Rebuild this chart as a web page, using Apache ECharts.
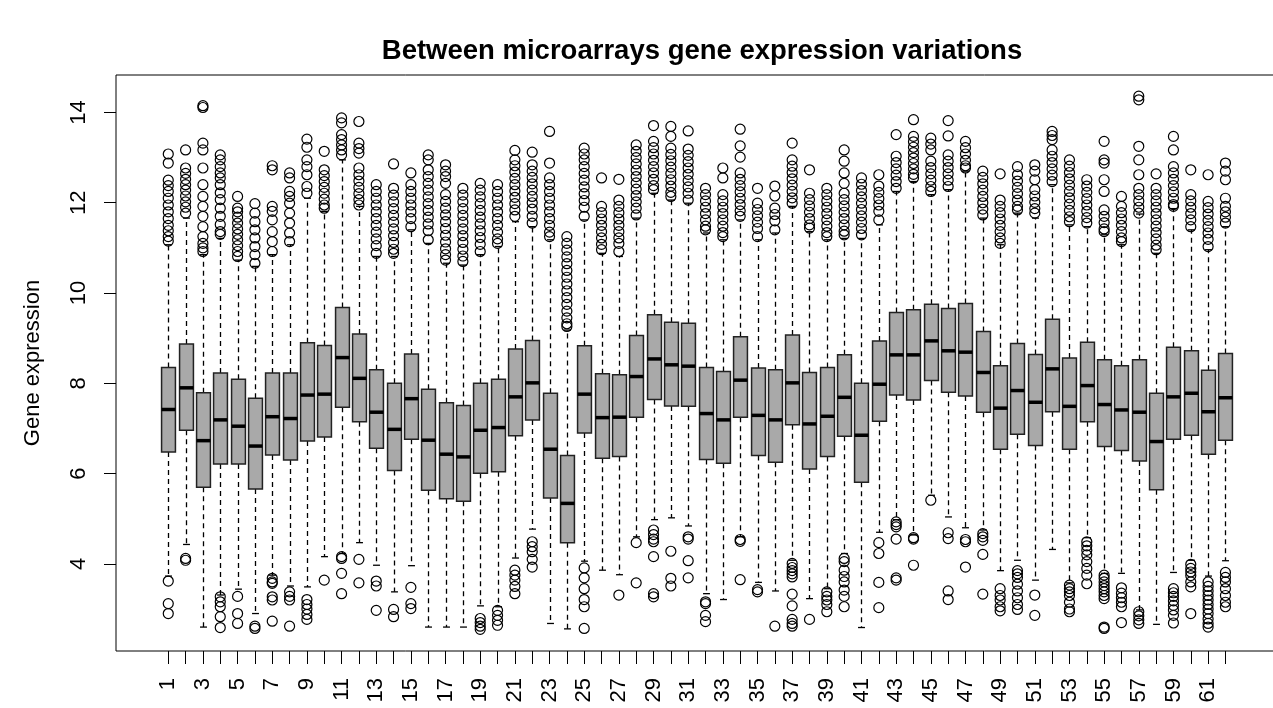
<!DOCTYPE html>
<html>
<head>
<meta charset="utf-8">
<title>Between microarrays gene expression variations</title>
<script src="https://cdn.jsdelivr.net/npm/echarts@6/dist/echarts.min.js"></script>
<style>
    html, body { margin: 0; padding: 0; background: #fff; }
    #chart { width: 1273px; height: 708px; }
</style>
</head>
<body>
<div id="chart"></div>
<script>
    // arrays 1..62
    var arrays = ['1','2','3','4','5','6','7','8','9','10','11','12','13','14','15','16','17','18','19','20',
        '21','22','23','24','25','26','27','28','29','30','31','32','33','34','35','36','37','38','39','40',
        '41','42','43','44','45','46','47','48','49','50','51','52','53','54','55','56','57','58','59','60',
        '61','62'];
    var yTicks = [4, 6, 8, 10, 12, 14];

    var whiskerLow = [3.73,4.43,2.60,3.31,3.44,2.90,3.75,3.51,3.49,4.16, 4.23,4.47,3.97,3.38,3.96,2.60,2.60,2.60,3.07,3.05,
        4.13,4.77,2.68,2.56,4.06,3.86,3.76,4.60,4.98,5.02, 4.84,3.34,3.21,4.60,3.59,3.40,4.08,3.23,3.45,4.23,
        2.59,4.70,4.98,4.64,5.52,5.04,4.80,4.75,3.85,4.08, 3.64,4.32,3.58,4.58,3.79,3.79,2.98,2.66,3.81,4.08,
        3.73,4.07];
    var q1 = [6.48,6.96,5.70,6.21,6.21,5.66,6.41,6.30,6.72,6.81, 7.47,7.15,6.56,6.07,6.76,5.63,5.44,5.39,6.01,6.04,
        6.84,7.19,5.46,4.47,6.90,6.34,6.38,7.25,7.64,7.50, 7.49,6.31,6.23,7.25,6.40,6.25,7.08,6.10,6.38,6.83,
        5.81,7.16,7.74,7.63,8.06,7.80,7.72,7.36,6.54,6.87, 6.62,7.37,6.54,7.15,6.60,6.51,6.28,5.64,6.76,6.85,
        6.43,6.74];
    var medians = [7.42,7.90,6.73,7.19,7.05,6.61,7.26,7.22,7.74,7.76, 8.57,8.11,7.36,6.98,7.66,6.74,6.43,6.37,6.96,7.02,
        7.70,8.01,6.54,5.34,7.76,7.24,7.25,8.15,8.54,8.41, 8.38,7.33,7.19,8.07,7.29,7.19,8.01,7.10,7.27,7.69,
        6.85,7.98,8.63,8.63,8.94,8.72,8.69,8.24,7.45,7.84, 7.58,8.32,7.49,7.95,7.53,7.41,7.36,6.71,7.70,7.78,
        7.37,7.68];
    var q3 = [8.35,8.87,7.79,8.23,8.09,7.67,8.23,8.23,8.90,8.84, 9.68,9.09,8.30,8.00,8.65,7.87,7.57,7.51,8.00,8.09,
        8.76,8.95,7.78,6.40,8.83,8.21,8.19,9.06,9.52,9.35, 9.33,8.35,8.26,9.03,8.34,8.30,9.07,8.24,8.35,8.63,
        8.00,8.94,9.57,9.63,9.75,9.66,9.77,9.15,8.39,8.88, 8.64,9.42,8.56,8.91,8.52,8.39,8.52,7.78,8.80,8.72,
        8.29,8.66];
    var whiskerHigh = [11.07,11.66,10.85,11.21,10.73,10.59,10.85,11.07,12.10,11.81, 12.95,11.92,10.81,10.81,11.40,11.10,10.66,10.62,10.85,11.03,
        11.58,11.47,11.18,9.18,11.62,10.88,10.81,11.66,12.21,12.06, 11.99,11.33,11.18,11.62,11.18,11.33,11.92,11.36,11.18,11.21,
        11.21,11.51,12.25,12.47,12.18,12.29,12.70,11.66,11.07,11.77, 11.66,12.40,11.51,11.47,11.29,11.07,11.75,10.88,11.87,11.40,
        10.96,11.47];

    // outlying points of each array (upper and lower)
    var outliers = [
        [13.08,12.88,12.5,12.38,12.25,12.1,11.95,11.8,11.65,11.5,11.38,11.25,11.15, 3.62,3.12,2.9],
        [13.17,12.77,12.65,12.52,12.4,12.28,12.15,12.02,11.9,11.77, 4.12,4.08],
        [14.15,14.11,13.32,13.17,12.77,12.4,12.14,11.92,11.7,11.47,11.25,11.1,11.0,10.92],
        [13.06,12.95,12.8,12.66,12.55,12.4,12.22,12.07,11.88,11.7,11.52,11.36,11.3, 3.27,3.16,3.05,2.83,2.59],
        [12.14,11.88,11.8,11.68,11.55,11.42,11.3,11.18,11.05,10.92,10.81, 3.28,2.9,2.68],
        [11.98,11.77,11.58,11.4,11.22,11.03,10.85,10.66, 2.62,2.57],
        [12.82,12.73,11.92,11.81,11.62,11.36,11.14,10.92, 3.68,3.6,3.57,3.27,3.2,2.73],
        [12.66,12.55,12.25,12.14,11.99,11.77,11.55,11.33,11.14, 3.38,3.28,3.2,2.62],
        [13.41,13.23,12.95,12.8,12.62,12.36,12.21, 3.21,3.1,3.0,2.88,2.77],
        [13.14,12.73,12.6,12.47,12.34,12.21,12.08,11.95,11.88, 3.64],
        [13.88,13.77,13.51,13.4,13.28,13.17,13.06, 4.16,4.12,3.79,3.34],
        [13.8,13.32,13.2,13.1,12.77,12.62,12.48,12.34,12.2,12.07,11.95, 4.1,3.58],
        [12.4,12.25,12.1,11.95,11.8,11.65,11.5,11.35,11.2,11.05,10.88, 3.62,3.51,2.97],
        [12.86,12.32,12.17,12.02,11.87,11.72,11.57,11.42,11.27,11.12,10.97,10.88, 2.99,2.83],
        [12.66,12.4,12.25,12.1,11.95,11.8,11.65,11.47, 3.48,3.12,3.01],
        [13.06,12.95,12.73,12.58,12.43,12.28,12.13,11.98,11.83,11.68,11.53,11.38,11.18],
        [12.84,12.7,12.58,12.43,12.18,12.03,11.88,11.73,11.58,11.43,11.28,11.13,10.98,10.85,10.73],
        [12.32,12.17,12.02,11.87,11.72,11.57,11.42,11.27,11.12,10.97,10.82,10.7],
        [12.43,12.28,12.13,11.98,11.83,11.68,11.53,11.38,11.23,11.08,10.92, 2.79,2.7,2.62,2.55],
        [12.4,12.25,12.1,11.95,11.8,11.65,11.5,11.35,11.2,11.1, 2.97,2.86,2.75,2.64],
        [13.16,12.95,12.82,12.68,12.54,12.4,12.26,12.12,11.98,11.84,11.7, 3.86,3.75,3.64,3.5,3.34],
        [13.12,12.84,12.7,12.56,12.42,12.28,12.14,12.0,11.86,11.7,11.55, 4.49,4.38,4.27,4.1,3.93],
        [13.58,12.88,12.55,12.4,12.25,12.1,11.95,11.8,11.65,11.5,11.35,11.25],
        [11.25,11.1,10.95,10.8,10.65,10.5,10.35,10.2,10.05,9.9,9.75,9.6,9.45,9.32,9.26],
        [13.21,13.08,12.95,12.8,12.65,12.5,12.35,12.2,12.05,11.9,11.7, 3.91,3.69,3.45,3.21,3.05,2.57],
        [12.55,11.92,11.78,11.64,11.5,11.36,11.22,11.08,10.96],
        [12.52,12.06,11.92,11.78,11.64,11.5,11.36,11.22,11.1,10.92, 3.31],
        [13.28,13.14,13.0,12.86,12.72,12.58,12.44,12.3,12.16,12.02,11.88,11.73, 4.47,3.58],
        [13.71,13.36,13.22,13.08,12.94,12.8,12.66,12.52,12.38,12.29, 4.75,4.65,4.55,4.49,4.16,3.34,3.27],
        [13.69,13.47,13.21,13.07,12.93,12.79,12.65,12.51,12.37,12.23,12.14, 4.28,3.68,3.51],
        [13.59,13.19,13.05,12.91,12.77,12.63,12.49,12.35,12.21,12.06, 4.6,4.55,4.07,3.69],
        [12.32,12.18,12.04,11.9,11.76,11.62,11.48,11.4, 3.16,3.12,2.86,2.72],
        [12.77,12.55,12.18,12.04,11.9,11.76,11.62,11.48,11.34,11.25],
        [13.63,13.26,13.01,12.66,12.52,12.38,12.24,12.1,11.96,11.82,11.7, 4.54,4.5,3.65],
        [12.32,11.99,11.85,11.71,11.57,11.43,11.25, 3.43,3.38],
        [12.37,12.15,11.88,11.74,11.6,11.4, 2.62],
        [13.32,12.95,12.81,12.67,12.53,12.39,12.25,12.11,11.99, 4.01,3.92,3.85,3.78,3.71,3.33,3.07,2.77,2.68,2.62],
        [12.73,12.21,12.07,11.93,11.79,11.65,11.51,11.44, 2.77],
        [12.32,12.18,12.04,11.9,11.76,11.62,11.48,11.34,11.25, 3.38,3.28,3.2,3.1,2.94],
        [13.17,12.92,12.66,12.43,12.21,12.07,11.93,11.79,11.65,11.51,11.37,11.29, 4.12,4.05,3.86,3.72,3.6,3.42,3.28,3.05],
        [12.55,12.41,12.27,12.13,11.99,11.85,11.71,11.57,11.43,11.29],
        [12.62,12.37,12.23,12.09,11.95,11.81,11.62, 4.47,4.23,3.59,3.03],
        [13.51,13.03,12.89,12.75,12.61,12.47,12.32, 4.93,4.87,4.82,4.55,3.69,3.64],
        [13.84,13.47,13.35,13.23,13.11,12.99,12.87,12.75,12.63,12.55, 4.58,4.55,3.97],
        [13.43,13.3,13.17,12.92,12.78,12.64,12.5,12.36,12.25, 5.41],
        [13.82,13.48,13.06,12.92,12.78,12.64,12.5,12.36, 4.69,4.56,3.4,3.21],
        [13.36,13.22,13.08,12.94,12.82,12.77, 4.54,4.49,3.93],
        [12.7,12.56,12.42,12.28,12.14,12.0,11.86,11.73, 4.67,4.6,4.52,4.21,3.33],
        [12.64,12.06,11.92,11.78,11.64,11.5,11.36,11.22,11.1, 3.45,3.3,3.2,3.05,2.96],
        [12.8,12.62,12.48,12.34,12.2,12.06,11.92,11.84, 3.85,3.78,3.7,3.55,3.4,3.25,3.1,2.99],
        [12.84,12.7,12.51,12.29,12.15,12.01,11.87,11.77, 3.31,2.86],
        [13.58,13.49,13.4,13.17,13.03,12.89,12.75,12.61,12.47],
        [12.95,12.81,12.67,12.53,12.39,12.25,12.11,11.97,11.83,11.69,11.58, 3.53,3.45,3.38,3.3,3.15,3.0,2.94],
        [12.51,12.37,12.23,12.09,11.95,11.81,11.67,11.55, 4.49,4.4,4.3,4.2,4.05,3.9,3.75,3.56],
        [13.36,12.95,12.88,12.51,12.25,11.84,11.7,11.56,11.42,11.36, 3.75,3.68,3.6,3.52,3.45,3.38,3.3,3.23,2.6,2.57],
        [12.14,11.92,11.78,11.64,11.5,11.36,11.22,11.14, 3.47,3.35,3.25,3.15,3.05,2.7],
        [14.36,14.28,13.25,12.95,12.62,12.32,12.18,12.04,11.9,11.77, 2.94,2.85,2.76,2.68],
        [12.64,12.32,12.18,12.04,11.9,11.76,11.62,11.48,11.34,11.2,11.06,10.96],
        [13.47,13.17,12.8,12.66,12.52,12.38,12.24,12.1,11.96,11.92, 3.45,3.36,3.28,3.18,3.08,2.98,2.86,2.69],
        [12.73,12.18,12.04,11.9,11.76,11.62,11.47, 3.99,3.9,3.82,3.74,3.6,3.49,2.9],
        [12.62,12.03,11.89,11.75,11.61,11.47,11.33,11.19,11.03, 3.6,3.5,3.4,3.3,3.2,3.1,3.0,2.9,2.78,2.68,2.6],
        [12.88,12.7,12.51,12.1,11.92,11.8,11.68,11.55, 3.81,3.7,3.6,3.45,3.3,3.15,3.05]
    ];

    var yMin = 2.07, yMax = 14.83;
    var font = '"Liberation Sans", Arial, Helvetica, sans-serif';

    var boxData = [];
    for (var i = 0; i < arrays.length; i++) {
        boxData.push([i, whiskerLow[i], q1[i], medians[i], q3[i], whiskerHigh[i]]);
    }
    var pointData = [];
    for (var i = 0; i < outliers.length; i++) {
        for (var j = 0; j < outliers[i].length; j++) {
            pointData.push([i, outliers[i][j]]);
        }
    }

    function renderBox(params, api) {
        var i = api.value(0);
        var bw = api.size([1, 0])[0] * 0.8;
        var lo = api.coord([i, api.value(1)]);
        var b1 = api.coord([i, api.value(2)]);
        var md = api.coord([i, api.value(3)]);
        var b3 = api.coord([i, api.value(4)]);
        var hi = api.coord([i, api.value(5)]);
        var x = Math.round(b1[0]) + 0.5;
        var dash = { stroke: '#000', lineWidth: 1.3, lineDash: [5, 4] };
        var solid = { stroke: '#000', lineWidth: 1.3 };
        return {
            type: 'group',
            children: [
                { type: 'line', shape: { x1: x, y1: b1[1], x2: x, y2: lo[1] }, style: dash },
                { type: 'line', shape: { x1: x, y1: b3[1], x2: x, y2: hi[1] }, style: dash },
                { type: 'line', shape: { x1: x - bw / 4, y1: lo[1], x2: x + bw / 4, y2: lo[1] }, style: solid },
                { type: 'line', shape: { x1: x - bw / 4, y1: hi[1], x2: x + bw / 4, y2: hi[1] }, style: solid },
                { type: 'rect', shape: { x: x - bw / 2, y: b3[1], width: bw, height: b1[1] - b3[1] },
                  style: { fill: '#A9A9A9', stroke: '#222', lineWidth: 1.5 } },
                { type: 'line', shape: { x1: x - bw / 2, y1: md[1], x2: x + bw / 2, y2: md[1] },
                  style: { stroke: '#000', lineWidth: 3.5 } }
            ]
        };
    }

    var option = {
        animation: false,
        backgroundColor: '#fff',
        title: {
            text: 'Between microarrays gene expression variations',
            left: 697,
            top: 32,
            textAlign: 'center',
            textStyle: { fontFamily: font, fontSize: 27.5, fontWeight: 'bold', color: '#000' }
        },
        grid: [
            { left: 116, top: 75, width: 1162, height: 576, show: true, borderColor: '#000', borderWidth: 1,
              backgroundColor: 'transparent', outerBoundsMode: 'none' },
            { left: 159.6, top: 75, width: 1074.5, height: 576, outerBoundsMode: 'none' }
        ],
        xAxis: [
            { gridIndex: 0, type: 'value', min: 0, max: 1, show: false },
            {
                gridIndex: 1,
                type: 'category',
                data: arrays,
                boundaryGap: true,
                axisLine: { show: false },
                axisTick: { show: true, alignWithLabel: true, interval: 0, length: 13,
                            lineStyle: { color: '#000', width: 1 } },
                axisLabel: { interval: 1, rotate: 90, margin: 27, color: '#000',
                             fontFamily: font, fontSize: 22 },
                splitLine: { show: false }
            }
        ],
        yAxis: [
            {
                gridIndex: 0,
                type: 'value',
                min: yMin,
                max: yMax,
                name: 'Gene expression',
                nameLocation: 'middle',
                nameGap: 72,
                nameRotate: 90,
                nameTextStyle: { fontFamily: font, fontSize: 22, color: '#000' },
                axisLine: { show: false },
                axisTick: { show: true, length: 12, customValues: yTicks, lineStyle: { color: '#000', width: 1 } },
                axisLabel: { rotate: 90, margin: 26, customValues: yTicks, color: '#000',
                             fontFamily: font, fontSize: 22 },
                splitLine: { show: false }
            },
            { gridIndex: 1, type: 'value', min: yMin, max: yMax, show: false, splitLine: { show: false } }
        ],
        series: [
            {
                type: 'custom',
                xAxisIndex: 1,
                yAxisIndex: 1,
                renderItem: renderBox,
                encode: { x: 0, y: [1, 2, 3, 4, 5] },
                data: boxData,
                silent: true
            },
            {
                type: 'scatter',
                xAxisIndex: 1,
                yAxisIndex: 1,
                symbol: 'circle',
                symbolSize: 10,
                itemStyle: { color: 'rgba(0,0,0,0)', borderColor: '#000', borderWidth: 1.2, opacity: 1 },
                data: pointData,
                silent: true
            }
        ]
    };

    var chart = echarts.init(document.getElementById('chart'));
    chart.setOption(option);
</script>
</body>
</html>
